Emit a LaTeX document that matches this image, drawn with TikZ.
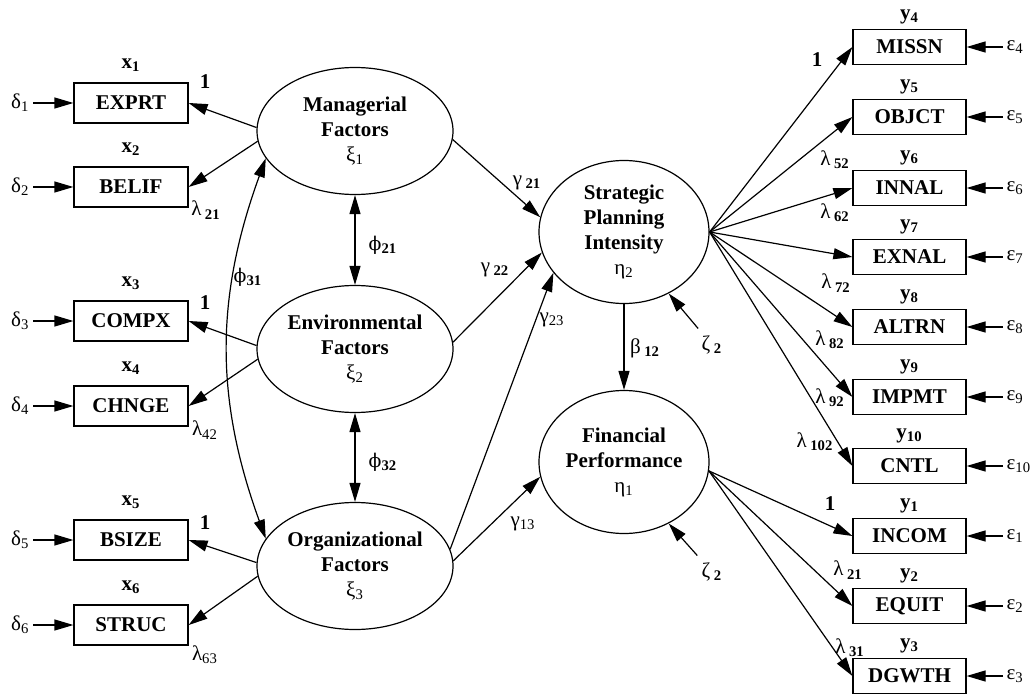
\documentclass[tikz,border=0pt]{standalone}
\usepackage{fontspec}
\setmainfont{Liberation Serif}
\newfontfamily\gkfont{DejaVu Serif}[Scale=0.9]
\usetikzlibrary{arrows.meta,shapes.geometric}
\newcommand{\phiv}{{\gkfont ϕ}}
\tikzset{
  every node/.style={font=\fontsize{10.5}{12.5}\selectfont},
  obs/.style={draw,rectangle,minimum width=57pt,minimum height=20pt,
    font=\fontsize{10.5}{12.5}\selectfont\bfseries},
  obsr/.style={obs,minimum width=56.5pt,minimum height=17.5pt},
  lat/.style={draw,ellipse,inner sep=0pt,minimum width=98pt,minimum height=63.5pt,
    align=center,font=\fontsize{10.5}{12.5}\selectfont\bfseries},
  latr/.style={lat,minimum width=85pt,minimum height=71.5pt},
  err/.style={inner sep=1.5pt},
  >={Triangle[length=9.5pt,width=5.5pt]}
}
\begin{document}
\begin{tikzpicture}[x=0.5pt,y=-0.5pt,line width=0.6pt]
  \useasboundingbox (0,0) rectangle (1032,695);
  % exogenous indicators
  \foreach \i/\t/\y in {1/EXPRT/103,2/BELIF/187,3/COMPX/321,4/CHNGE/406,5/BSIZE/540,6/STRUC/625}{
    \node[obs](X\i) at (131,\y) {\t};
    \node(xl\i) at (131,{\y-38}) {\textbf{x}\textsubscript{\bfseries\i}};
    \node[err,anchor=east](D\i) at (33,\y) {δ\textsubscript{\i}};
    \draw[->](D\i)--(X\i);
  }
  % endogenous indicators
  \foreach \i/\t/\y in {4/MISSN/47,5/OBJCT/117,6/INNAL/188,7/EXNAL/257,8/ALTRN/327,
      9/IMPMT/397,10/CNTL/466,1/INCOM/536,2/EQUIT/606,3/DGWTH/676}{
    \node[obsr](Y\i) at (909.5,\y) {\t};
    \node(yl\i) at (909.5,{\y-30}) {\textbf{y}\textsubscript{\bfseries\i}};
    \node[err,anchor=west](E\i) at (1003,\y) {ε\textsubscript{\i}};
    \draw[->](E\i)--(Y\i);
  }
  % latent variables
  \node[lat](KSI1) at (355,131) {Managerial\\Factors\\\mdseries ξ\textsubscript{1}};
  \node[lat](KSI2) at (355,349) {Environmental\\Factors\\\mdseries ξ\textsubscript{2}};
  \node[lat](KSI3) at (355,566) {Organizational\\Factors\\\mdseries ξ\textsubscript{3}};
  \node[latr](ETA2) at (624,232) {Strategic\\Planning\\Intensity\\\mdseries η\textsubscript{2}};
  \node[latr](ETA1) at (624,462) {Financial\\Performance\\\mdseries η\textsubscript{1}};
  % loadings
  \foreach \l/\x in {KSI1/X1,KSI2/X3,KSI3/X5}{
    \draw[->](\l.178)--(\x.east);
  }
  \foreach \l/\x in {KSI1/X2,KSI2/X4,KSI3/X6}{
    \draw[->](\l.186)--(\x.east);
  }
  \foreach \y in {4,...,10}{
    \draw[->](ETA2.east)--(Y\y.west);
  }
  \foreach \y in {1,2,3}{
    \draw[->](ETA1.-6)--(Y\y.west);
  }
  % structural paths
  \draw[->](KSI1.-5)--(ETA2.170);
  \draw[->](KSI2.4)--(ETA2.194);
  \draw[->](KSI3.10)--(ETA2.210);
  \draw[->](KSI3.3)--(ETA1.190);
  \draw[->](ETA2)--(ETA1);
  \draw[<->](KSI1)--(KSI2);
  \draw[<->](KSI2)--(KSI3);
  \draw[<->](KSI1.197) to[bend right=20] (KSI3.163);
  \node(Z1) at (712,345) {ζ\,\textsubscript{\bfseries 2}};
  \node(Z2) at (712,572) {ζ\,\textsubscript{\bfseries 2}};
  \draw[->](Z1)--(ETA2.-54);
  \draw[->](Z2)--(ETA1.-54);
  % path labels
  \node(g21) at (527,183) {γ\,\textsubscript{\bfseries 21}};
  \node(g22) at (495,270) {γ\,\textsubscript{\bfseries 22}};
  \node(g23) at (552,320) {γ\textsubscript{23}};
  \node(g13) at (523,524) {γ\textsubscript{13}};
  \node(b12) at (645,348) {β\,\textsubscript{\bfseries 12}};
  \node(p21) at (383,245) {\phiv\textsubscript{\bfseries 21}};
  \node(p32) at (383,462) {\phiv\textsubscript{\bfseries 32}};
  \node(p31) at (248,277) {\phiv\textsubscript{\bfseries 31}};
  \node(o1) at (205,82) {\textbf{1}};
  \node(o3) at (205,303) {\textbf{1}};
  \node(o5) at (205,523) {\textbf{1}};
  \node(lx21) at (206,210) {λ\,\textsubscript{\bfseries 21}};
  \node(lx42) at (205,430) {λ\textsubscript{42}};
  \node(lx63) at (205,655) {λ\textsubscript{63}};
  \node(o4) at (817,60) {\textbf{1}};
  \node(ly52) at (835,160) {λ\,\textsubscript{\bfseries 52}};
  \node(ly62) at (835,213) {λ\,\textsubscript{\bfseries 62}};
  \node(ly72) at (836,283) {λ\,\textsubscript{\bfseries 72}};
  \node(ly82) at (830,340) {λ\,\textsubscript{\bfseries 82}};
  \node(ly92) at (830,398) {λ\,\textsubscript{\bfseries 92}};
  \node(ly102) at (815,442) {λ\,\textsubscript{\bfseries 102}};
  \node(o6) at (830,504) {\textbf{1}};
  \node(ly21) at (848,570) {λ\,\textsubscript{\bfseries 21}};
  \node(ly31) at (850,648) {λ\,\textsubscript{\bfseries 31}};
\end{tikzpicture}
\end{document}
